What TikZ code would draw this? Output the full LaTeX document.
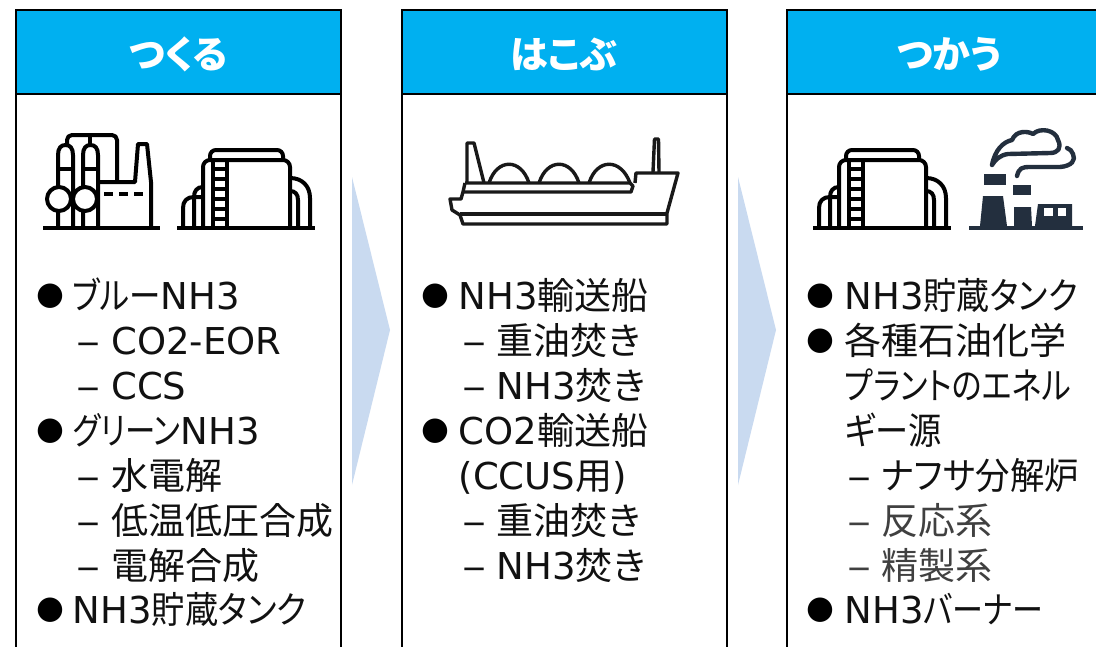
\documentclass[tikz,border=0pt]{standalone}
\usepackage{fontspec}
\setmainfont{DejaVu Sans}
\newfontfamily\jp[RawFeature=+palt]{Noto Sans CJK JP}
\newcommand\fitjp[2]{\resizebox{#1pt}{\height}{\jp #2}}
\newcommand\dashmark{\scalebox{1.3}[1]{–}}
\definecolor{hdr}{HTML}{00B0F0}
\definecolor{arrowblue}{HTML}{C9DAF0}
\definecolor{txt}{HTML}{111111}
\definecolor{graytxt}{HTML}{404040}
\definecolor{inkblue}{HTML}{232F3E}
\tikzset{
 panel/.style={draw=black,line width=2pt,fill=white},
 headbar/.style={draw=black,line width=2pt,fill=hdr},
 headtext/.style={anchor=center,inner sep=0pt,text=white,font=\jp\bfseries\fontsize{38}{42}\selectfont},
 flow/.style={fill=arrowblue,draw=none},
 lbl/.style={anchor=base west,inner sep=0pt,text=txt,font=\fontsize{37}{40}\selectfont},
 glbl/.style={lbl,text=graytxt},
 bul/.style={anchor=center,inner sep=0pt,text=black,font=\fontsize{32}{40}\selectfont},
 icon/.style={draw=black,line width=4pt,line join=round,fill=none},
 shipline/.style={draw=black!90,line width=3.4pt,line join=round,fill=none},
 smoke/.style={draw=inkblue,line width=4.4pt,line cap=round,line join=round,fill=none},
 tank/.pic={
  \draw[icon] (0,0)--(138,0);
  \draw[icon,rounded corners=6pt] (33,-68)--(33,-78)--(106,-78)--(106,-68);
  \draw[icon,rounded corners=7pt] (26,0)--(26,-68)--(113,-68)--(113,0);
  \draw[icon] (36,0)--(36,-68) (49.5,0)--(49.5,-68);
  \foreach \y in {-9,-19,-29,-39,-49,-59}{\draw[icon,line width=3.4pt] (36,\y)--(49.5,\y);}
  \draw[icon] (6,0)--(6,-20) .. controls (6,-27) and (10,-31) .. (17,-31) -- (25,-31);
  \draw[icon] (17,0)--(17,-31) .. controls (17,-37) and (20,-41) .. (26,-41);
  \draw[icon] (121,0)--(121,-28) .. controls (121,-34) and (118,-37) .. (113,-37);
  \draw[icon] (133,0)--(133,-30) .. controls (133,-42) and (125,-50) .. (113,-50);
 }
}
\begin{document}
\begin{tikzpicture}[x=1pt,y=-1pt]
\useasboundingbox (0,0) rectangle (1096,646);
\fill[white] (0,0) rectangle (1096,646);
\clip (0,0) rectangle (1096,646);
% panels
\draw[panel] (15.5,10) rectangle (340.5,660);
\draw[headbar] (15.5,10) rectangle (340.5,93.5);
\draw[panel] (401.5,10) rectangle (726.5,660);
\draw[headbar] (401.5,10) rectangle (726.5,93.5);
\draw[panel] (786.5,10) rectangle (1120,660);
\draw[headbar] (786.5,10) rectangle (1120,93.5);
\node[headtext] (h1) at (178,54) {つくる};
\node[headtext] (h2) at (564,54) {はこぶ};
\node[headtext] (h3) at (949.5,54) {つかう};
% flow arrows
\fill[flow] (352,177)--(390,330)--(352,485)--cycle;
\fill[flow] (738,177)--(776,330)--(738,485)--cycle;
% factory icon
\begin{scope}
 \draw[icon] (43,228)--(160,228);
 \draw[icon] (58,228)--(58,155) .. controls (58,148) and (61,145) .. (65.5,145) .. controls (70,145) and (73,148) .. (73,155) -- (73,228);
 \draw[icon] (83,228)--(83,155) .. controls (83,148) and (86,145) .. (90.5,145) .. controls (95,145) and (98,148) .. (98,155) -- (98,228);
 \draw[icon] (58,169)--(73,169) (83,169)--(98,169);
 \draw[icon,fill=white] (59,199) circle[radius=12];
 \draw[icon,fill=white] (85,199) circle[radius=12];
 \draw[icon,rounded corners=5pt] (67,145)--(67,135)--(117,135)--(117,182);
 \draw[icon] (90,135)--(90,145);
 \draw[icon] (98,182)--(135,182)--(138,144)--(147,144)--(151,182)--(151,228);
 \foreach \x in {104,119,134}{\draw[icon] (\x,194)--(\x+9,194);}
\end{scope}
% tanks
\pic at (177,228) {tank};
\pic at (813,228) {tank};
% ship
\begin{scope}
 \draw[shipline] (467,183)--(467,143)--(474,143)--(484,183);
 \draw[shipline] (489,183) .. controls (497,158) and (521,158) .. (529,183);
 \draw[shipline] (539,183) .. controls (547,158) and (571,158) .. (579,183);
 \draw[shipline] (589,183) .. controls (597,158) and (621,158) .. (630,183);
 \draw[shipline] (465,183)--(630,183)--(633,186)--(631,192)--(463,192);
 \draw[shipline] (465,183)--(463,192)--(461,199)--(450,199)--(452,210)--(460,215)--(463,224)--(667,224)--(667,213)--(678,173)--(636,173)--(635,183);
 \draw[shipline] (460,214)--(667,214);
 \draw[shipline] (653,172)--(654.5,139)--(658.5,139)--(659,172);
\end{scope}
% plant with smoke
\begin{scope}
 \fill[inkblue] (984,174)--(1006,174)--(1006,185)--(984,185)--cycle;
 \fill[inkblue] (983,196)--(1003,196)--(1007,226)--(980,226)--cycle;
 \fill[inkblue] (1013,185)--(1031,185)--(1031,195)--(1013,195)--cycle;
 \fill[inkblue] (1014,207)--(1031,207)--(1032,226)--(1014,226)--cycle;
 \fill[inkblue] (1038,204)--(1072,204)--(1072,226)--(1035,226)--cycle;
 \fill[white] (1044,208) rectangle (1053,216);
 \fill[white] (1058,208) rectangle (1066,216);
 \fill[inkblue] (969,226) rectangle (1083,230);
 \draw[smoke]
  (992,165) .. controls (995,150) and (1003,142) .. (1012,140)
  .. controls (1016,130) and (1028,131) .. (1033,134)
  .. controls (1040,127) and (1056,130) .. (1058,140)
  .. controls (1062,148) and (1058,153) .. (1050,153)
  -- (1008,154) .. controls (1000,155) and (995,160) .. (992,165);
 \draw[smoke]
  (1017,176) .. controls (1019,168) and (1022,167) .. (1030,167)
  -- (1060,167) .. controls (1072,166) and (1076,160) .. (1073,154)
  .. controls (1072,151) and (1070,149) .. (1067,148);
\end{scope}
% column 1
\node[bul] (b11) at (50,296) {●};
\node[lbl] (t11) at (72.5,309) {\fitjp{88}{ブルー}NH3};
\node[lbl] (d12) at (76,354) {\dashmark};
\node[lbl] (t12) at (111,354) {CO2-EOR};
\node[lbl] (d13) at (76,399) {\dashmark};
\node[lbl] (t13) at (111,399) {CCS};
\node[bul] (b14) at (50,431) {●};
\node[lbl] (t14) at (72.5,444) {\fitjp{108}{グリーン}NH3};
\node[lbl] (d15) at (76,489) {\dashmark};
\node[lbl] (t15) at (111.5,489) {\jp 水電解};
\node[lbl] (d16) at (76,534) {\dashmark};
\node[lbl] (t16) at (111.5,534) {\jp 低温低圧合成};
\node[lbl] (d17) at (76,579) {\dashmark};
\node[lbl] (t17) at (111.5,579) {\jp 電解合成};
\node[bul] (b18) at (50,610) {●};
\node[lbl] (t18) at (72.5,623) {NH3\fitjp{155}{貯蔵タンク}};
% column 2
\node[bul] (b21) at (435,296) {●};
\node[lbl] (t21) at (458.5,309) {NH3{\jp 輸送船}};
\node[lbl] (d22) at (462,354) {\dashmark};
\node[lbl] (t22) at (496.5,354) {\jp 重油焚き};
\node[lbl] (d23) at (462,399) {\dashmark};
\node[lbl] (t23) at (496.5,399) {NH3{\jp 焚き}};
\node[bul] (b24) at (435,431) {●};
\node[lbl] (t24) at (458.5,444) {CO2{\jp 輸送船}};
\node[lbl] (t25) at (458.5,489) {(CCUS{\jp 用})};
\node[lbl] (d26) at (462,534) {\dashmark};
\node[lbl] (t26) at (496.5,534) {\jp 重油焚き};
\node[lbl] (d27) at (462,579) {\dashmark};
\node[lbl] (t27) at (496.5,579) {NH3{\jp 焚き}};
% column 3
\node[bul] (b31) at (820,296) {●};
\node[lbl] (t31) at (844.5,309) {NH3\fitjp{154}{貯蔵タンク}};
\node[bul] (b32) at (820,341) {●};
\node[lbl] (t32) at (844.5,354) {\jp 各種石油化学};
\node[lbl] (t33) at (844.5,399) {\fitjp{226}{プラントのエネル}};
\node[lbl] (t34) at (844.5,444) {\fitjp{97}{ギー源}};
\node[lbl] (d35) at (847,489) {\dashmark};
\node[lbl] (t35) at (881.5,489) {\fitjp{197}{ナフサ分解炉}};
\node[glbl] (d36) at (847,534) {\dashmark};
\node[glbl] (t36) at (881.5,534) {\jp 反応系};
\node[glbl] (d37) at (847,579) {\dashmark};
\node[glbl] (t37) at (881.5,579) {\jp 精製系};
\node[bul] (b38) at (820,610) {●};
\node[lbl] (t38) at (844.5,623) {NH3\fitjp{120}{バーナー}};
\end{tikzpicture}
\end{document}
